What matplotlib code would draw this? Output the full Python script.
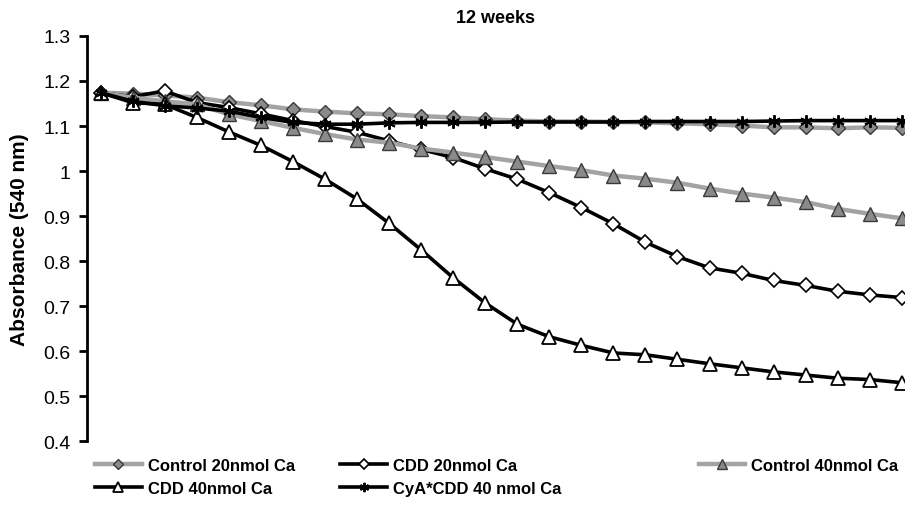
import numpy as np
import matplotlib
matplotlib.use('Agg')
import matplotlib.pyplot as plt

plt.rcParams['font.family'] = ['Liberation Sans', 'DejaVu Sans']
plt.rcParams['font.weight'] = 'bold'

# readings taken over time (26 points, no x labels in the original)
readings = np.arange(26)

control_20 = [1.174, 1.172, 1.168, 1.163, 1.153, 1.146, 1.137, 1.132, 1.128, 1.126,
              1.122, 1.119, 1.115, 1.112, 1.110, 1.110, 1.109, 1.108, 1.106, 1.104,
              1.101, 1.097, 1.097, 1.095, 1.097, 1.096]
cdd_20 = [1.174, 1.165, 1.178, 1.152, 1.141, 1.127, 1.112, 1.099, 1.086, 1.067,
          1.048, 1.030, 1.005, 0.982, 0.952, 0.919, 0.883, 0.842, 0.810, 0.785,
          0.773, 0.757, 0.746, 0.733, 0.725, 0.719]
control_40 = [1.174, 1.163, 1.155, 1.148, 1.126, 1.111, 1.096, 1.082, 1.070, 1.063,
              1.050, 1.041, 1.031, 1.021, 1.011, 1.002, 0.990, 0.983, 0.974, 0.961,
              0.950, 0.941, 0.931, 0.916, 0.905, 0.895]
cdd_40 = [1.174, 1.152, 1.148, 1.119, 1.087, 1.057, 1.021, 0.982, 0.938, 0.884,
          0.825, 0.763, 0.707, 0.660, 0.632, 0.613, 0.596, 0.592, 0.582, 0.572,
          0.563, 0.554, 0.547, 0.540, 0.537, 0.530]
cya_cdd_40 = [1.174, 1.155, 1.145, 1.140, 1.133, 1.119, 1.108, 1.104, 1.104, 1.107,
              1.108, 1.108, 1.108, 1.109, 1.109, 1.109, 1.109, 1.110, 1.110, 1.110,
              1.110, 1.111, 1.112, 1.112, 1.112, 1.112]

labels = ['Control 20nmol Ca', 'CDD 20nmol Ca', 'Control 40nmol Ca',
          'CDD 40nmol Ca', 'CyA*CDD 40 nmol Ca']
yticks = [0.4, 0.5, 0.6, 0.7, 0.8, 0.9, 1.0, 1.1, 1.2, 1.3]
ytick_labels = ['0.4', '0.5', '0.6', '0.7', '0.8', '0.9', '1', '1.1', '1.2', '1.3']

gray_line = '#a3a3a3'
gray_fill = '#8a8a8a'
dark_edge = '#3a3a3a'
star = (6, 2, 0)

fig = plt.figure(figsize=(9.05, 5.06), dpi=100)
ax = fig.add_axes([0.096, 0.126, 0.904, 0.801])

h1, = ax.plot(readings, control_20, color=gray_line, lw=3.2, marker='D', ms=7,
              mfc=gray_fill, mec=dark_edge, mew=1.0, label=labels[0])
h2, = ax.plot(readings, cdd_20, color='black', lw=2.6, marker='D', ms=7,
              mfc='white', mec='black', mew=1.2, label=labels[1])
h3, = ax.plot(readings, control_40, color=gray_line, lw=3.2, marker='^', ms=10,
              mfc=gray_fill, mec=dark_edge, mew=1.0, label=labels[2])
h4, = ax.plot(readings, cdd_40, color='black', lw=2.6, marker='^', ms=10,
              mfc='white', mec='black', mew=1.3, label=labels[3])
h5, = ax.plot(readings, cya_cdd_40, color='black', lw=2.6, marker=star, ms=9,
              mec='black', mew=1.4, label=labels[4])

ax.set_xlim(-0.43, 25.1)
ax.set_ylim(0.4, 1.3)
ax.set_yticks(yticks)
ax.set_yticklabels(ytick_labels, fontsize=14, fontweight='normal')
ax.set_xticks([])
for side in ['top', 'right', 'bottom']:
    ax.spines[side].set_visible(False)
ax.spines['left'].set_linewidth(2)
ax.tick_params(axis='y', direction='out', length=6, width=2, pad=6)
ax.set_ylabel('Absorbance (540 nm)', fontsize=15, fontweight='bold', labelpad=10)
fig.text(0.547, 0.963, '12 weeks', ha='center', va='center', fontsize=13, fontweight='bold')

# legend drawn as three columns at their own x positions
columns = [([h1, h4], 0.105), ([h2, h5], 0.376), ([h3], 0.772)]
for handles, xpos in columns:
    leg = fig.legend(handles=handles, loc='upper left', bbox_to_anchor=(xpos, 0.093),
                     frameon=False, handlelength=2.8, handletextpad=0.35,
                     labelspacing=0.5, borderaxespad=0, borderpad=0,
                     prop={'weight': 'bold', 'size': 12})
    for line in leg.get_lines():
        line.set_markersize(line.get_markersize() * 0.75)

fig.savefig('out.png', dpi=100)
